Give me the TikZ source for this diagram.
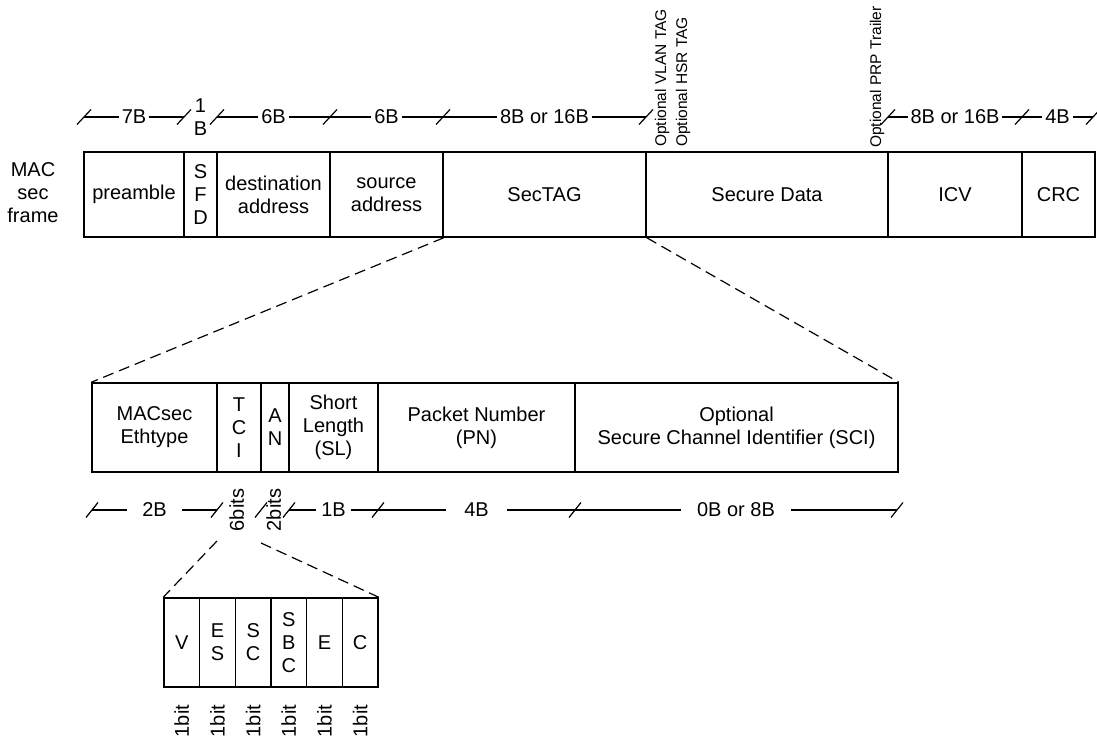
\documentclass[tikz,border=0pt]{standalone}
\usepackage{fontspec}
\setmainfont{Liberation Sans}
\usetikzlibrary{calc}
\begin{document}
\begin{tikzpicture}[x=1pt,y=-1pt,
  font=\fontsize{20}{23}\selectfont,
  cell/.style={draw, line width=1.5pt, align=center, inner sep=0pt, minimum height=#1},
  cell/.default=85pt,
  dimline/.style={line width=1.2pt},
  tickmark/.style={line width=1.2pt},
  dlab/.style={fill=white, inner xsep=3pt, inner ysep=1pt},
  dlabw/.style={fill=white, inner xsep=15pt, inner ysep=1pt},
  rlab/.style={rotate=90, font=\fontsize{15.5}{17}\selectfont, anchor=west, inner sep=0pt},
  rbit/.style={rotate=90, inner sep=0pt},
  zoomline/.style={dash pattern=on 11pt off 6pt, line width=1.2pt}
]
\useasboundingbox (0,0) rectangle (1097,742);

% ---------- MACsec frame ----------
\node[align=center, inner sep=0pt] (title) at (33,193) {MAC\\sec\\frame};
\node[cell, minimum width=100pt] (pre) at (134,194.5) {preamble};
\node[cell, minimum width=33pt] (sfd) at (200.5,194.5) {S\\F\\D};
\node[cell, minimum width=113pt] (dst) at (273.5,194.5) {destination\\address};
\node[cell, minimum width=113pt] (src) at (386.5,194.5) {source\\address};
\node[cell, minimum width=203pt] (sectag) at (544.5,194.5) {SecTAG};
\node[cell, minimum width=242pt] (sdata) at (767,194.5) {Secure Data};
\node[cell, minimum width=134pt] (icv) at (955,194.5) {ICV};
\node[cell, minimum width=73pt] (crc) at (1058.5,194.5) {CRC};

% top dimension line
\foreach \n/\x in {t0/84,t1/184,t2/217,t3/330,t4/443,t5/646,t6/888,t7/1022,t8/1093}
  {\coordinate (\n) at (\x,117);
   \draw[tickmark] (\n) ++(-7,7.5) -- ++(14,-15);}
\draw[dimline] (t0) -- node[dlab]{7B} (t1);
\node[align=center, inner sep=0pt] (oneb) at ($(t1)!0.5!(t2)$) {1\\B};
\draw[dimline] (t2) -- node[dlab]{6B} (t3);
\draw[dimline] (t3) -- node[dlab]{6B} (t4);
\draw[dimline] (t4) -- node[dlab]{8B or 16B} (t5);
\draw[dimline] (t6) -- node[dlab]{8B or 16B} (t7);
\draw[dimline] (t7) -- node[dlab]{4B} (t8);

\node[rlab] (vlan) at (662,147) {Optional VLAN TAG};
\node[rlab] (hsr) at (683,147) {Optional HSR TAG};
\node[rlab] (prp) at (877,148) {Optional PRP Trailer};

% ---------- SecTAG ----------
\node[cell=89pt, minimum width=125pt] (eth) at (154.5,427.5) {MACsec\\Ethtype};
\node[cell=89pt, minimum width=44pt] (tci) at (239,427.5) {T\\C\\I};
\node[cell=89pt, minimum width=28pt] (an) at (275,427.5) {\fontsize{20}{19}\selectfont A\\N};
\node[cell=89pt, minimum width=89pt] (sl) at (333.5,427.5) {Short\\Length\\(SL)};
\node[cell=89pt, minimum width=197pt] (pn) at (476.5,427.5) {\fontsize{20}{21}\selectfont Packet Number\\(PN)};
\node[cell=89pt, minimum width=323pt] (sci) at (736.5,427.5) {\fontsize{20}{26}\selectfont Optional\\Secure Channel Identifier (SCI)};

\draw[zoomline] (src.south east) -- (eth.north west);
\draw[zoomline] (sectag.south east) -- (sci.north east);

% middle dimension line
\foreach \n/\x in {m0/92,m1/217,m2/261,m3/289,m4/378,m5/575,m6/897}
  {\coordinate (\n) at (\x,510);
   \draw[tickmark] (\n) ++(-6,7.5) -- ++(12,-15);}
\draw[dimline] (m0) -- node[dlabw]{2B} (m1);
\node[rbit] (six) at ($(m1)!0.45!(m2)$) {6bits};
\node[rbit] (two) at ($(m2)!0.45!(m3)$) {2bits};
\draw[dimline] (m3) -- node[dlab, inner xsep=5pt]{1B} (m4);
\draw[dimline] (m4) -- node[dlab, inner xsep=18pt]{4B} (m5);
\draw[dimline] (m5) -- node[dlab, inner xsep=16pt]{0B or 8B} (m6);

% ---------- TCI bits ----------
\foreach \n/\i/\t in {bv/0/V, bes/1/{E\\S}, bsc/2/{S\\C}, bsbc/3/{S\\B\\C}, be/4/E, bc/5/C}
  {\node[cell=89pt, minimum width=35.67pt] (\n) at ({164+35.67*\i+17.83},642.5) {\t};
   \node[rbit] (\n l) at ({164+35.67*\i+17.83},721) {1bit};}

\coordinate (tcil) at (217,541);
\coordinate (tcir) at (261,543);
\draw[zoomline] (tcil) -- (bv.north west);
\draw[zoomline] (tcir) -- (bc.north east);
\end{tikzpicture}
\end{document}
